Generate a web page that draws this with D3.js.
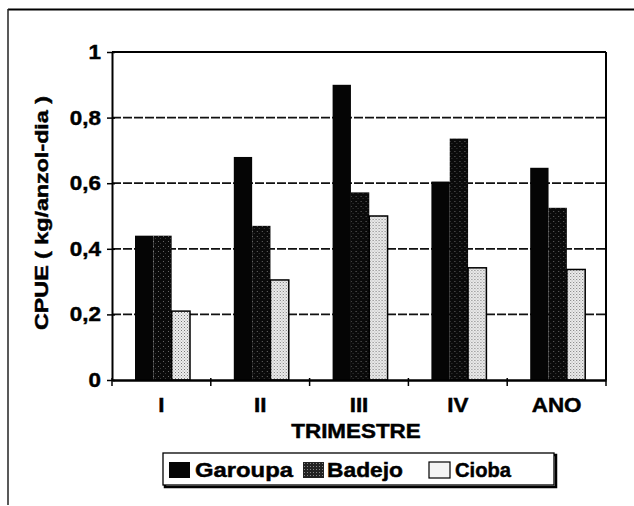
<!DOCTYPE html>
<html>
<head>
<meta charset="utf-8">
<script src="https://cdn.jsdelivr.net/npm/d3@7"></script>
<style>
  html, body { margin: 0; padding: 0; background: #fff; }
  svg { display: block; }
  text { font-family: "Liberation Sans", Arial, sans-serif; font-weight: bold; fill: #000; stroke: #000; stroke-width: 0.45px; }
</style>
</head>
<body>
<svg id="chart" width="634" height="506"></svg>
<script>
// ---- data ----
const categories = ["I", "II", "III", "IV", "ANO"];
const seriesNames = ["Garoupa", "Badejo", "Cioba"];
const garoupa = [0.44, 0.68, 0.90, 0.605, 0.647];
const badejo  = [0.44, 0.47, 0.572, 0.736, 0.525];
const cioba   = [0.21, 0.305, 0.50, 0.342, 0.337];
const yTicks = [0, 0.2, 0.4, 0.6, 0.8, 1];
const yTickLabels = ["0", "0,2", "0,4", "0,6", "0,8", "1"];
const xTitle = "TRIMESTRE";
const yTitle = "CPUE ( kg/anzol-dia )";

const seriesValues = [garoupa, badejo, cioba];
const rows = categories.map((c, i) => ({ cat: c, vals: seriesNames.map((s, j) => ({ s, v: seriesValues[j][i] })) }));

const svg = d3.select("#chart");
const defs = svg.append("defs");

// patterns
const pBad = defs.append("pattern").attr("id", "pBad").attr("patternUnits", "userSpaceOnUse")
  .attr("width", 5).attr("height", 5);
pBad.append("rect").attr("width", 5).attr("height", 5).attr("fill", "#0a0a0a");
pBad.append("rect").attr("x", 1).attr("y", 1).attr("width", 1).attr("height", 1).attr("fill", "#666");
pBad.append("rect").attr("x", 3).attr("y", 3).attr("width", 1).attr("height", 1).attr("fill", "#3a3a3a");

const pCio = defs.append("pattern").attr("id", "pCio").attr("patternUnits", "userSpaceOnUse")
  .attr("width", 3).attr("height", 3);
pCio.append("rect").attr("width", 3).attr("height", 3).attr("fill", "#eee");
pCio.append("rect").attr("x", 0).attr("y", 0).attr("width", 1).attr("height", 1).attr("fill", "#777");
pCio.append("rect").attr("x", 1.5).attr("y", 1.5).attr("width", 1).attr("height", 1).attr("fill", "#999");

const pLegBad = defs.append("pattern").attr("id", "pLegBad").attr("patternUnits", "userSpaceOnUse")
  .attr("width", 3).attr("height", 3);
pLegBad.append("rect").attr("width", 3).attr("height", 3).attr("fill", "#222");
pLegBad.append("rect").attr("x", 1).attr("y", 1).attr("width", 1).attr("height", 1).attr("fill", "#888");

const fills = { Garoupa: "#050505", Badejo: "url(#pBad)", Cioba: "url(#pCio)" };
const legFills = { Garoupa: "#050505", Badejo: "url(#pLegBad)", Cioba: "#f4f4f4" };

// layout
const L = 112, R = 606, T = 52, B = 380;
const x0 = d3.scaleBand().domain(categories).range([L, R]).paddingInner(0).paddingOuter(0);
const x1 = d3.scaleBand().domain(seriesNames).range([23, 78]).padding(0);
const y = d3.scaleLinear().domain([0, 1]).range([B, T]);

// outer frame
svg.append("line").attr("x1", 8).attr("x2", 634).attr("y1", 9.5).attr("y2", 9.5).attr("stroke", "#000").attr("stroke-width", 2);
svg.append("line").attr("x1", 8).attr("x2", 8).attr("y1", 9).attr("y2", 505).attr("stroke", "#222").attr("stroke-width", 1.5);

// gridlines
svg.append("g").selectAll("line").data(yTicks.filter(t => t > 0 && t < 1)).join("line")
  .attr("x1", L).attr("x2", R).attr("y1", d => y(d)).attr("y2", d => y(d))
  .attr("stroke", "#111").attr("stroke-width", 1.7).attr("stroke-dasharray", "9,2");

// plot frame top & right
svg.append("line").attr("x1", L).attr("x2", R).attr("y1", y(1)).attr("y2", y(1)).attr("stroke", "#000").attr("stroke-width", 2);
svg.append("line").attr("x1", R).attr("x2", R).attr("y1", y(1)).attr("y2", B).attr("stroke", "#000").attr("stroke-width", 2);

// bars
const g = svg.append("g").selectAll("g").data(rows).join("g")
  .attr("transform", d => `translate(${x0(d.cat)},0)`);
g.selectAll("rect").data(d => d.vals).join("rect")
  .attr("x", d => x1(d.s))
  .attr("y", d => y(d.v))
  .attr("width", x1.bandwidth())
  .attr("height", d => y(0) - y(d.v))
  .attr("fill", d => fills[d.s])
  .attr("stroke", d => d.s === "Cioba" ? "#000" : "none")
  .attr("stroke-width", 1.5);

// y axis
const yAxis = d3.axisLeft(y).tickValues(yTicks).tickFormat((d, i) => yTickLabels[i]).tickSizeInner(5).tickSizeOuter(0).tickPadding(7);
const ya = svg.append("g").attr("transform", `translate(${L},0)`).call(yAxis);
ya.select(".domain").attr("stroke", "#000").attr("stroke-width", 2);
ya.selectAll(".tick line").attr("stroke", "#000").attr("stroke-width", 1.5).attr("x2", -5).attr("x1", 3);
ya.selectAll(".tick text").attr("font-size", 20).attr("font-family", "Liberation Sans, Arial, sans-serif")
  .attr("font-weight", "bold").attr("fill", "#000").attr("x", -11);

// x axis
const xAxis = d3.axisBottom(x0).tickSize(0).tickPadding(0);
const xa = svg.append("g").attr("transform", `translate(0,${B})`).call(xAxis);
xa.select(".domain").attr("stroke", "#000").attr("stroke-width", 2.5);
xa.selectAll(".tick text").attr("font-size", 20).attr("font-family", "Liberation Sans, Arial, sans-serif")
  .attr("font-weight", "bold").attr("fill", "#000").attr("dy", null).attr("y", 32);
// boundary ticks
svg.append("g").selectAll("line").data(categories.slice(1).map(c => x0(c)).concat([L, R])).join("line")
  .attr("x1", d => d).attr("x2", d => d).attr("y1", B - 2).attr("y2", B + 6)
  .attr("stroke", "#000").attr("stroke-width", 1.5);

// titles
svg.append("text").attr("x", 356).attr("y", 438).attr("text-anchor", "middle").attr("font-size", 20).text(xTitle);
svg.append("text").attr("transform", `translate(48,${(T + B) / 2 - 3}) rotate(-90)`)
  .attr("text-anchor", "middle").attr("font-size", 18).text(yTitle);

// stretch text horizontally a bit
svg.selectAll("text").each(function () {
  const el = this;
  const isY = el.textContent === yTitle;
  const w = el.getComputedTextLength();
  if (isY) {
    d3.select(el).attr("textLength", 234).attr("lengthAdjust", "spacingAndGlyphs");
  } else {
    d3.select(el).attr("textLength", w * 1.12).attr("lengthAdjust", "spacingAndGlyphs");
  }
});

// legend
const lg = svg.append("g");
lg.append("rect").attr("x", 165).attr("y", 455).attr("width", 391).attr("height", 32).attr("fill", "none").attr("stroke", "#000").attr("stroke-width", 2.5);
lg.append("rect").attr("x", 163).attr("y", 453).attr("width", 391).attr("height", 32).attr("fill", "#fff").attr("stroke", "#000").attr("stroke-width", 1.3);
const legX = [169, 303, 429];
const legTX = [195, 327, 455];
const legW = [98, 76, 56];
seriesNames.forEach((s, i) => {
  lg.append("rect").attr("x", legX[i]).attr("y", 462).attr("width", 21).attr("height", 16)
    .attr("fill", legFills[s]).attr("stroke", s === "Cioba" ? "#000" : "none").attr("stroke-width", 1.2);
  lg.append("text").attr("x", legTX[i]).attr("y", 477).attr("font-size", 20).text(s)
    .attr("textLength", legW[i]).attr("lengthAdjust", "spacingAndGlyphs");
});
</script>
</body>
</html>
